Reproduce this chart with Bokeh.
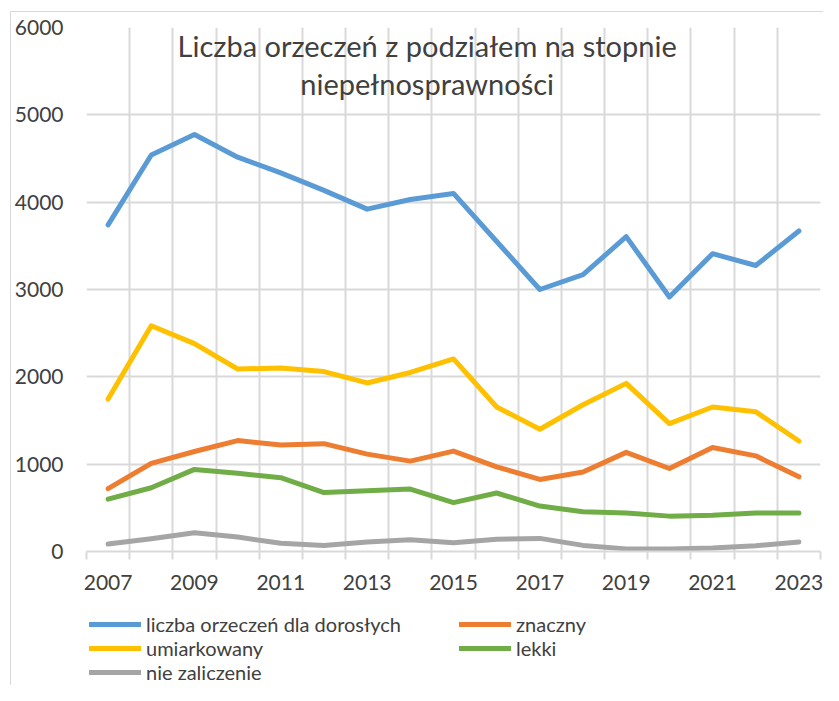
from bokeh.plotting import figure
from bokeh.layouts import column
from bokeh.models import FixedTicker, Legend, LegendItem, Label, Range1d
from bokeh.embed import file_html
from bokeh.resources import INLINE

years = [2007, 2008, 2009, 2010, 2011, 2012, 2013, 2014, 2015,
         2016, 2017, 2018, 2019, 2020, 2021, 2022, 2023]
dorosli = [3740, 4540, 4775, 4515, 4335, 4135, 3920, 4030, 4100,
           3550, 3000, 3170, 3605, 2915, 3410, 3275, 3670]
znaczny = [720, 1010, 1145, 1270, 1220, 1235, 1115, 1035, 1150,
           970, 825, 910, 1135, 950, 1190, 1095, 855]
umiarkowany = [1745, 2585, 2380, 2090, 2100, 2060, 1930, 2050, 2205,
               1655, 1400, 1680, 1925, 1465, 1655, 1600, 1265]
lekki = [600, 730, 940, 895, 845, 675, 695, 715, 560,
         670, 520, 455, 440, 405, 415, 440, 440]
nie_zaliczenie = [85, 145, 215, 165, 95, 70, 110, 135, 100,
                  140, 150, 70, 30, 30, 40, 65, 110]

series_names = ["liczba orzeczeń dla dorosłych", "znaczny", "umiarkowany",
                "lekki", "nie zaliczenie"]
series_values = [dorosli, znaczny, umiarkowany, lekki, nie_zaliczenie]
series_colors = ["#5b9bd5", "#ed7d31", "#ffc000", "#70ad47", "#a5a5a5"]

y_ticks = [0, 1000, 2000, 3000, 4000, 5000, 6000]
x_tick_labels = [2007, 2009, 2011, 2013, 2015, 2017, 2019, 2021, 2023]
title_lines = ["Liczba orzeczeń z podziałem na stopnie", "niepełnosprawności"]

FONT = "Lato"
TXT = "#404040"
GRID = "#d9d9d9"

boundaries = [y - 0.5 for y in years] + [years[-1] + 0.5]

p = figure(width=812, height=588, output_backend="svg", toolbar_location=None,
           x_range=Range1d(boundaries[0], boundaries[-1]),
           y_range=Range1d(y_ticks[0], y_ticks[-1]))
p.min_border_left = 75
p.min_border_right = 3
p.min_border_top = 15
p.min_border_bottom = 49
p.outline_line_color = None
p.background_fill_color = "white"
p.border_fill_color = "white"

# grids
p.xgrid.ticker = FixedTicker(ticks=boundaries)
p.ygrid.ticker = FixedTicker(ticks=y_ticks)
for g in (p.xgrid, p.ygrid):
    g.grid_line_color = GRID
    g.grid_line_width = 2

# x axis
xa = p.xaxis[0]
xa.ticker = FixedTicker(ticks=x_tick_labels, minor_ticks=boundaries)
xa.major_tick_line_color = None
xa.major_tick_out = 0
xa.major_tick_in = 0
xa.minor_tick_line_color = GRID
xa.minor_tick_line_width = 2
xa.minor_tick_out = 8
xa.minor_tick_in = 0
xa.axis_line_color = GRID
xa.axis_line_width = 2
xa.major_label_text_font = FONT
xa.major_label_text_font_size = "21px"
xa.major_label_text_color = TXT
xa.major_label_standoff = 15

# y axis
ya = p.yaxis[0]
ya.ticker = FixedTicker(ticks=y_ticks)
ya.axis_line_color = None
ya.major_tick_line_color = None
ya.minor_tick_line_color = None
ya.major_tick_out = 0
ya.major_tick_in = 0
ya.major_label_text_font = FONT
ya.major_label_text_font_size = "21px"
ya.major_label_text_color = TXT
ya.major_label_standoff = 23

for name, vals, col in zip(series_names, series_values, series_colors):
    p.line(years, vals, line_color=col, line_width=5,
           line_cap="round", line_join="round")

# title inside plot area
title_y = [5795, 5359]
for t, ty in zip(title_lines, title_y):
    lab = Label(x=2014.39, y=ty, text=t, text_align="center",
                text_baseline="alphabetic", text_font=FONT, text_font_size="29px",
                text_color=TXT)
    p.add_layout(lab)

# legend figure below (its series lie outside its own frame; only the legend shows)
lg = figure(width=812, height=85, output_backend="svg", toolbar_location=None,
            x_range=Range1d(0, 1), y_range=Range1d(0, 1),
            x_axis_location=None, y_axis_location=None, min_border=0)
lg.outline_line_color = None
lg.xgrid.visible = False
lg.ygrid.visible = False
lg.border_fill_color = "white"
lg.background_fill_color = "white"

items = []
for name, vals, col in zip(series_names, series_values, series_colors):
    r = lg.line(years, vals, line_color=col, line_width=5, line_cap="round")
    items.append(LegendItem(label=name, renderers=[r]))

legend = Legend(items=items, location=(3, 1), orientation="horizontal", ncols=2,
                glyph_width=52, glyph_height=24, label_height=24, label_standoff=5,
                label_width=313, spacing=0, padding=0, margin=0,
                border_line_color=None, background_fill_alpha=0,
                label_text_font=FONT, label_text_font_size="20px",
                label_text_color=TXT)
lg.add_layout(legend, "center")

layout = column(p, lg, spacing=0, margin=(11, 0, 0, 10),
                styles={"border-left": "1px solid #d9d9d9",
                        "border-top": "1px solid #d9d9d9"})
open("out.html", "w").write(file_html(layout, INLINE))
